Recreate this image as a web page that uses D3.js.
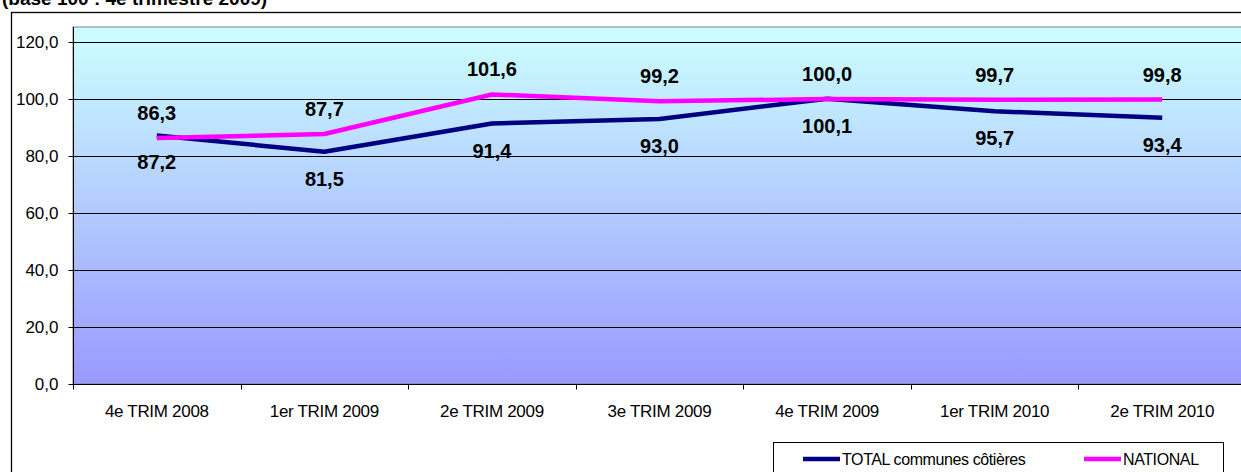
<!DOCTYPE html>
<html>
<head>
<meta charset="utf-8">
<script src="https://cdn.jsdelivr.net/npm/d3@7"></script>
<style>
  html, body { margin: 0; padding: 0; background: #fff; }
  svg { display: block; font-family: "Liberation Sans", Arial, sans-serif; }
</style>
</head>
<body>
<svg id="chart" width="1241" height="472"></svg>
<script>
const categories = ['4e TRIM 2008', '1er TRIM 2009', '2e TRIM 2009', '3e TRIM 2009',
                    '4e TRIM 2009', '1er TRIM 2010', '2e TRIM 2010'];
const totalCotieres = [87.2, 81.5, 91.4, 93.0, 100.1, 95.7, 93.4];
const national      = [86.3, 87.7, 101.6, 99.2, 100.0, 99.7, 99.8];
const yTicks = [0, 20, 40, 60, 80, 100, 120];
const seriesNames = ['TOTAL communes côtières', 'NATIONAL'];

const svg = d3.select('#chart');
const fmt = v => d3.format('.1f')(v).replace('.', ',');

// plot area (right edge runs off the picture, like the reference)
const plot = { left: 73, top: 27, right: 1246, bottom: 384 };

const x = d3.scaleBand()
    .domain(categories)
    .range([plot.left, plot.right])
    .padding(0);

const y = d3.scaleLinear()
    .domain([0, 120])
    .range([plot.bottom, plot.top + 15]);

// title, mostly cut off at the top edge in the reference
svg.append('text')
    .attr('x', 2).attr('y', 5)
    .attr('font-size', 19).attr('font-weight', 'bold')
    .text('(base 100 : 4e trimestre 2009)');

// outer chart border
svg.append('rect')
    .attr('x', 11.5).attr('y', 12.5)
    .attr('width', 1260).attr('height', 500)
    .attr('fill', 'none').attr('stroke', '#000').attr('stroke-width', 1.3);

// background gradient
const defs = svg.append('defs');
const grad = defs.append('linearGradient')
    .attr('id', 'bg').attr('x1', 0).attr('y1', 0).attr('x2', 0).attr('y2', 1);
grad.append('stop').attr('offset', '0%').attr('stop-color', '#ccffff');
grad.append('stop').attr('offset', '100%').attr('stop-color', '#9999ff');

svg.append('rect')
    .attr('x', plot.left).attr('y', plot.top)
    .attr('width', plot.right - plot.left).attr('height', plot.bottom - plot.top)
    .attr('fill', 'url(#bg)')
    .attr('stroke', '#808080').attr('stroke-width', 1);

// gridlines
svg.append('g').selectAll('line')
    .data(yTicks.filter(t => t > 0))
    .join('line')
    .attr('x1', plot.left).attr('x2', plot.right)
    .attr('y1', d => Math.round(y(d)) + 0.5).attr('y2', d => Math.round(y(d)) + 0.5)
    .attr('stroke', '#000').attr('stroke-width', 1);

// y axis
const yAxis = svg.append('g')
    .attr('transform', `translate(${plot.left + 0.5},0)`)
    .call(d3.axisLeft(y).tickValues(yTicks).tickFormat(fmt).tickSize(5).tickPadding(10));
yAxis.select('.domain').attr('stroke', '#000').attr('d', `M0,${plot.top}V${plot.bottom}`);
yAxis.selectAll('text').attr('font-size', 17).attr('fill', '#000')
    .attr('font-family', '"Liberation Sans", Arial, sans-serif');

// x axis: ticks at category boundaries
const xAxisG = svg.append('g')
    .attr('transform', `translate(0,${plot.bottom + 0.5})`);
xAxisG.append('line')
    .attr('x1', plot.left).attr('x2', plot.right)
    .attr('stroke', '#000').attr('stroke-width', 1);
xAxisG.selectAll('.tick')
    .data(categories)
    .join('line')
    .attr('class', 'tick')
    .attr('x1', d => Math.round(x(d)) + 0.5).attr('x2', d => Math.round(x(d)) + 0.5)
    .attr('y1', 0).attr('y2', 5)
    .attr('stroke', '#000');
xAxisG.selectAll('text')
    .data(categories)
    .join('text')
    .attr('x', d => x(d) + x.bandwidth() / 2)
    .attr('y', 32)
    .attr('text-anchor', 'middle')
    .attr('font-size', 17)
    .attr('letter-spacing', -0.3)
    .text(d => d);

// lines
const line = d3.line()
    .x((d, i) => x(categories[i]) + x.bandwidth() / 2)
    .y(d => y(d));

svg.append('path')
    .datum(totalCotieres)
    .attr('d', line)
    .attr('fill', 'none').attr('stroke', '#000080')
    .attr('stroke-width', 4.5).attr('stroke-linejoin', 'round');

svg.append('path')
    .datum(national)
    .attr('d', line)
    .attr('fill', 'none').attr('stroke', '#ff00ff')
    .attr('stroke-width', 4.5).attr('stroke-linejoin', 'round');

// data labels
svg.append('g').selectAll('text')
    .data(national)
    .join('text')
    .attr('x', (d, i) => x(categories[i]) + x.bandwidth() / 2)
    .attr('y', d => y(d) - 18)
    .attr('text-anchor', 'middle')
    .attr('font-size', 20).attr('font-weight', 'bold')
    .text(fmt);

svg.append('g').selectAll('text')
    .data(totalCotieres)
    .join('text')
    .attr('x', (d, i) => x(categories[i]) + x.bandwidth() / 2)
    .attr('y', d => y(d) + 34)
    .attr('text-anchor', 'middle')
    .attr('font-size', 20).attr('font-weight', 'bold')
    .text(fmt);

// legend
const legend = svg.append('g');
legend.append('rect')
    .attr('x', 773.5).attr('y', 442.5)
    .attr('width', 450).attr('height', 60)
    .attr('fill', '#fff').attr('stroke', '#000').attr('stroke-width', 1);

const legendItems = legend.selectAll('g.item')
    .data(seriesNames)
    .join('g')
    .attr('class', 'item')
    .attr('transform', (d, i) => `translate(${i === 0 ? 803 : 1084},459)`);
legendItems.append('line')
    .attr('x1', 0).attr('x2', 37)
    .attr('stroke', (d, i) => i === 0 ? '#000080' : '#ff00ff')
    .attr('stroke-width', 4.5);
legendItems.append('text')
    .attr('x', 39).attr('y', 6)
    .attr('font-size', 16)
    .attr('letter-spacing', -0.4)
    .text(d => d);
</script>
</body>
</html>
